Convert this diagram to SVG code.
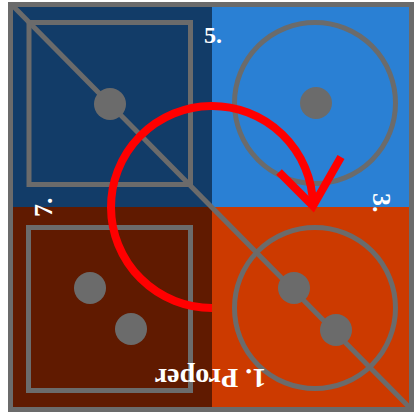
<svg xmlns="http://www.w3.org/2000/svg" width="414" height="416" viewBox="0 0 414 416">
<style>
.g{fill:none;stroke:#6b6b6b;stroke-width:5}
.dot{fill:#6b6b6b}
.lbl{font-family:"Liberation Serif",serif;font-weight:bold;fill:#ffffff}
.red{fill:none;stroke:#ff0000;stroke-width:8}
</style>
<rect width="414" height="416" fill="#ffffff"/>
<g id="quadrants">
<rect x="13" y="7" width="199" height="200" fill="#123c68"/>
<rect x="212" y="7" width="197" height="200" fill="#2a80d4"/>
<rect x="13" y="207" width="199" height="200" fill="#601a00"/>
<rect x="212" y="207" width="197" height="200" fill="#cc3a00"/>
</g>
<rect id="frame" class="g" x="10.5" y="4.5" width="401" height="405"/>
<line id="diagonal" class="g" x1="12" y1="5" x2="410" y2="408"/>
<g id="node5">
<rect class="g" x="29" y="22.5" width="161.5" height="162"/>
<circle class="dot" cx="110" cy="104" r="16"/>
</g>
<g id="node3">
<circle class="g" cx="315" cy="103" r="80.5"/>
<circle class="dot" cx="316" cy="103" r="16"/>
</g>
<g id="node7">
<rect class="g" x="28.5" y="227.5" width="162" height="163"/>
<circle class="dot" cx="90" cy="288" r="16"/>
<circle class="dot" cx="131" cy="329" r="16"/>
</g>
<g id="node1">
<circle class="g" cx="315" cy="308" r="80.5"/>
<circle class="dot" cx="294" cy="288" r="16"/>
<circle class="dot" cx="336" cy="330" r="16"/>
</g>
<g id="connectors">
<path class="red" d="M 212 308 A 101 101 0 1 1 313 205"/>
<polyline class="red" stroke-width="7" points="279,172 313,206 341,157"/>
</g>
<g id="labels">
<text class="lbl" x="204" y="43" font-size="24">5.</text>
<text class="lbl" font-size="26" transform="translate(373,193) rotate(90)">3.</text>
<text class="lbl" font-size="26" transform="translate(52,217) rotate(-90)">7.</text>
<text class="lbl" font-size="28" text-anchor="middle" transform="translate(210.5,369) rotate(180)">1. Proper</text>
</g>
</svg>
